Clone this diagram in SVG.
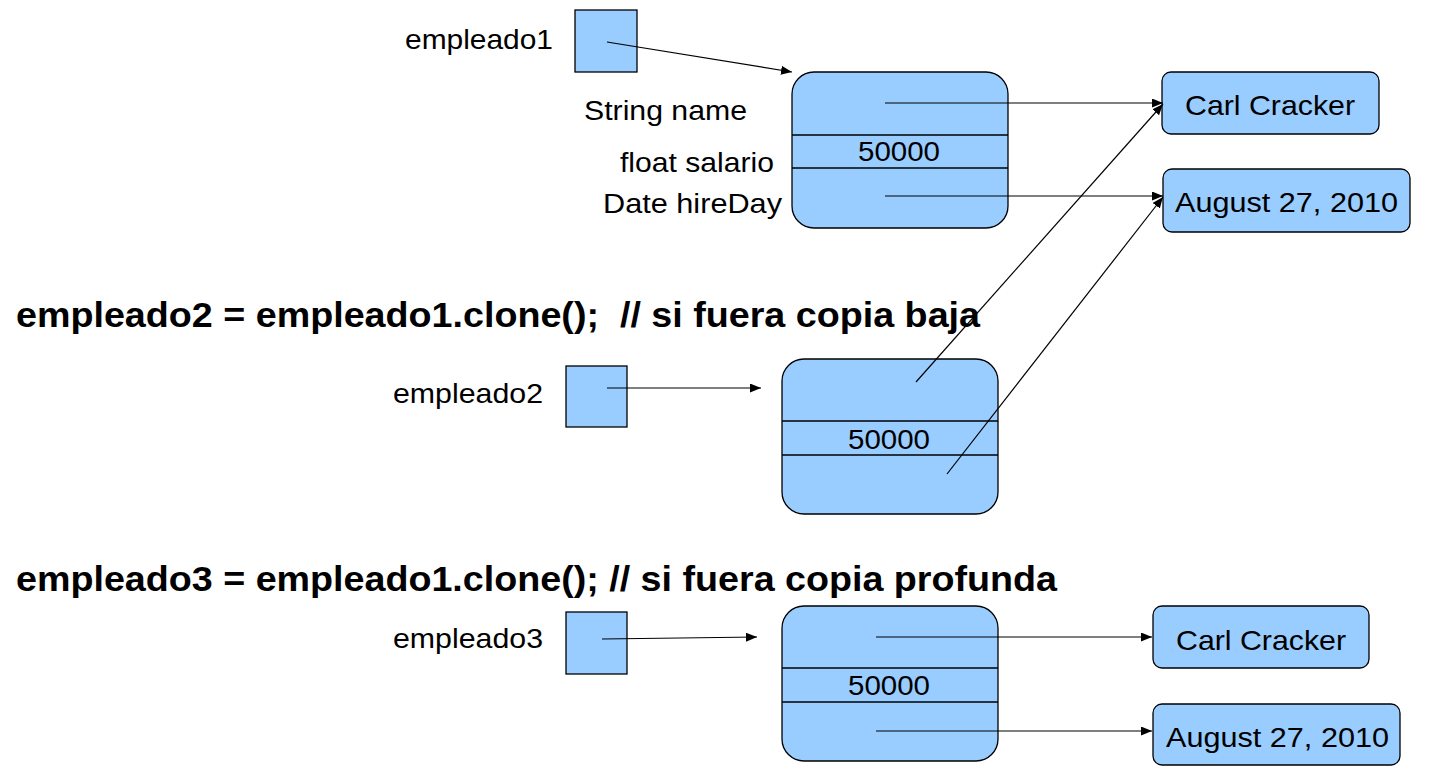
<svg xmlns="http://www.w3.org/2000/svg" width="1439" height="777" viewBox="0 0 1439 777">
<style>
.box{fill:#99ccff;stroke:#000;stroke-width:1.3}
.div{stroke:#000;stroke-width:1.3}
.t{font-family:"Liberation Sans",Arial,sans-serif;font-size:27.5px;fill:#000}
.h{font-family:"Liberation Sans",Arial,sans-serif;font-size:34.5px;font-weight:bold;fill:#000}
.c{fill:none;stroke:#000;stroke-width:1.2}
</style>
<defs>
<marker id="ah" markerUnits="userSpaceOnUse" markerWidth="12" markerHeight="10" refX="11" refY="4.5" orient="auto">
<path d="M0,0 L11,4.5 L0,9 z" fill="#000"/>
</marker>
</defs>
<rect width="1439" height="777" fill="#fff"/>
<g id="heading1"><text class="h" x="16" y="327" xml:space="preserve" textLength="964" lengthAdjust="spacingAndGlyphs">empleado2 = empleado1.clone();  // si fuera copia baja</text></g>
<g id="heading2"><text class="h" x="16" y="591" textLength="1041" lengthAdjust="spacingAndGlyphs">empleado3 = empleado1.clone(); // si fuera copia profunda</text></g>

<g id="ref1">
<text class="t" x="405" y="49" textLength="148" lengthAdjust="spacingAndGlyphs">empleado1</text>
<rect class="box" x="575" y="10" width="62" height="62"/>
</g>
<g id="obj1">
<text class="t" x="584" y="120" textLength="163" lengthAdjust="spacingAndGlyphs">String name</text>
<text class="t" x="620" y="172" textLength="154" lengthAdjust="spacingAndGlyphs">float salario</text>
<text class="t" x="603" y="213" textLength="179" lengthAdjust="spacingAndGlyphs">Date hireDay</text>
<rect class="box" x="792" y="72" width="216" height="156" rx="22"/>
<line class="div" x1="792" y1="135" x2="1008" y2="135"/>
<line class="div" x1="792" y1="168" x2="1008" y2="168"/>
<text class="t" x="858" y="161" textLength="82" lengthAdjust="spacingAndGlyphs">50000</text>
</g>
<g id="name1">
<rect class="box" x="1162" y="72" width="217" height="62" rx="9"/>
<text class="t" x="1185" y="115" textLength="170" lengthAdjust="spacingAndGlyphs">Carl Cracker</text>
</g>
<g id="date1">
<rect class="box" x="1163" y="169" width="247" height="63" rx="9"/>
<text class="t" x="1175" y="212" textLength="223" lengthAdjust="spacingAndGlyphs">August 27, 2010</text>
</g>

<g id="ref2">
<text class="t" x="393" y="403" textLength="150" lengthAdjust="spacingAndGlyphs">empleado2</text>
<rect class="box" x="566" y="366" width="61" height="61"/>
</g>
<g id="obj2">
<rect class="box" x="782" y="359" width="216" height="155" rx="22"/>
<line class="div" x1="782" y1="421" x2="998" y2="421"/>
<line class="div" x1="782" y1="455" x2="998" y2="455"/>
<text class="t" x="848" y="449" textLength="82" lengthAdjust="spacingAndGlyphs">50000</text>
</g>

<g id="ref3">
<text class="t" x="393" y="648" textLength="150" lengthAdjust="spacingAndGlyphs">empleado3</text>
<rect class="box" x="566" y="612" width="61" height="62"/>
</g>
<g id="obj3">
<rect class="box" x="782" y="606" width="216" height="155" rx="22"/>
<line class="div" x1="782" y1="668" x2="998" y2="668"/>
<line class="div" x1="782" y1="702" x2="998" y2="702"/>
<text class="t" x="848" y="695" textLength="82" lengthAdjust="spacingAndGlyphs">50000</text>
</g>
<g id="name3">
<rect class="box" x="1153" y="606" width="216" height="62" rx="9"/>
<text class="t" x="1176" y="650" textLength="170" lengthAdjust="spacingAndGlyphs">Carl Cracker</text>
</g>
<g id="date3">
<rect class="box" x="1153" y="704" width="247" height="61" rx="9"/>
<text class="t" x="1166" y="747" textLength="223" lengthAdjust="spacingAndGlyphs">August 27, 2010</text>
</g>

<g id="connectors">
<line class="c" x1="607" y1="42" x2="792" y2="72" marker-end="url(#ah)"/>
<line class="c" x1="885" y1="103" x2="1163" y2="103" marker-end="url(#ah)"/>
<line class="c" x1="885" y1="196" x2="1163" y2="196" marker-end="url(#ah)"/>
<line class="c" x1="607" y1="388" x2="761" y2="388" marker-end="url(#ah)"/>
<line class="c" x1="916" y1="382" x2="1163" y2="104" marker-end="url(#ah)"/>
<line class="c" x1="947" y1="474" x2="1163" y2="197" marker-end="url(#ah)"/>
<line class="c" x1="602" y1="639" x2="757" y2="637" marker-end="url(#ah)"/>
<line class="c" x1="876" y1="637" x2="1152" y2="637" marker-end="url(#ah)"/>
<line class="c" x1="876" y1="731" x2="1152" y2="731" marker-end="url(#ah)"/>
</g>
</svg>
